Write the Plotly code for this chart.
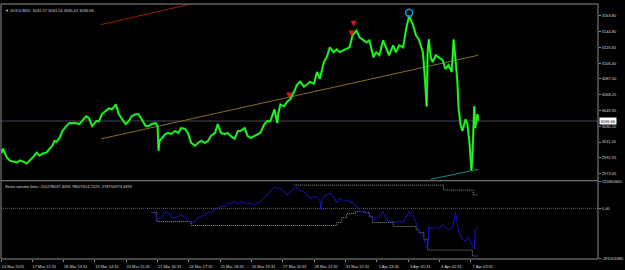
import plotly.graph_objects as go

# ---------------- data ----------------
symbol_title = "\u25BC GOLD,M15  3042.17 3043.24 3035.61 3036.66"
indicator_title = "Sirius volume lines -110278037.4094 78627614.7223 -278750973.4959"
current_price = 3036.66

x_tick_bars = [0, 100, 200, 300, 400, 500, 600, 700, 800, 900, 1000, 1100, 1200, 1300, 1400, 1500]
x_tick_labels = ["14 Mar 2025", "17 Mar 12:31", "18 Mar 13:31", "19 Mar 14:31", "20 Mar 15:31",
                 "21 Mar 16:31", "24 Mar 17:31", "25 Mar 18:31", "26 Mar 19:31", "27 Mar 20:31",
                 "28 Mar 21:31", "31 Mar 22:31", "1 Apr 23:31", "3 Apr 01:31", "4 Apr 02:31", "7 Apr 03:31"]

price_ticks = [3163.80, 3144.80, 3125.65, 3106.40, 3087.50, 3068.25, 3049.35, 3030.10, 3011.20, 2991.95, 2973.05]
price_range = [2965.1, 3177.7]

ind_max = 155.85   # millions
ind_min = -291.00
ind_tick_labels = ["155850600", "0.00", "-291003380"]

price_bars = [3, 6, 19, 28, 38, 51, 60, 70, 82, 92,
              101, 114, 123, 133, 145, 155, 164, 171, 177, 187,
              196, 209, 218, 228, 240, 250, 259, 272, 281, 291,
              304, 313, 322, 335, 345, 354, 367, 376, 386, 398,
              408, 417, 430, 439, 449, 462, 471, 481, 493, 500,
              503, 506, 512, 525, 534, 544, 556, 566, 575, 588,
              598, 607, 620, 629, 639, 651, 661, 670, 683, 692,
              702, 715, 724, 733, 746, 756, 765, 778, 787, 797,
              809, 819, 828, 841, 850, 860, 873, 882, 885, 892,
              904, 914, 923, 936, 945, 955, 967, 977, 986, 999,
              1009, 1018, 1031, 1040, 1050, 1062, 1072, 1081, 1094, 1103,
              1113, 1122, 1135, 1145, 1157, 1167, 1176, 1189, 1198, 1208,
              1220, 1230, 1239, 1252, 1261, 1271, 1284, 1293, 1303, 1315,
              1325, 1334, 1347, 1353, 1359, 1362, 1366, 1372, 1378, 1388,
              1397, 1410, 1419, 1429, 1439, 1445, 1451, 1457, 1461, 1467,
              1473, 1483, 1489, 1496, 1502, 1505, 1508, 1511, 1514, 1521,
              1524]
price_close = [2998.4, 3003.1, 2992.4, 2988.9, 2987.7, 2986.5, 2988.9, 2987.7, 2985.3, 2988.9,
               2992.4, 2998.4, 2994.8, 2997.2, 2998.4, 3003.1, 3006.7, 3012.6, 3011.4, 3016.2,
               3024.5, 3030.4, 3034.0, 3034.0, 3034.0, 3032.8, 3036.4, 3042.3, 3039.9, 3030.4,
               3036.4, 3036.4, 3044.7, 3048.2, 3051.8, 3050.6, 3056.6, 3044.7, 3038.7, 3032.8,
               3036.4, 3042.3, 3044.7, 3044.7, 3038.7, 3030.4, 3030.4, 3032.8, 3034.0, 3030.4,
               3000.7, 3012.6, 3015.0, 3020.9, 3022.1, 3020.9, 3024.5, 3022.1, 3028.0, 3026.9,
               3020.9, 3010.2, 3006.7, 3010.2, 3012.6, 3010.2, 3012.6, 3018.5, 3022.1, 3032.8,
               3022.1, 3020.9, 3022.1, 3018.5, 3015.0, 3024.5, 3024.5, 3028.0, 3018.5, 3016.2,
               3018.5, 3020.9, 3022.1, 3032.8, 3036.4, 3036.4, 3050.6, 3034.0, 3044.7, 3056.6,
               3054.2, 3060.1, 3062.5, 3072.0, 3080.3, 3083.9, 3077.9, 3080.3, 3083.9, 3081.5,
               3095.7, 3087.4, 3107.6, 3113.6, 3125.4, 3119.5, 3123.1, 3119.5, 3121.9, 3123.1,
               3125.4, 3139.7, 3145.6, 3137.3, 3133.8, 3131.4, 3133.8, 3113.6, 3119.5, 3115.9,
               3133.8, 3123.1, 3115.9, 3127.8, 3119.5, 3127.8, 3125.4, 3146.8, 3163.4, 3152.8,
               3139.7, 3134.9, 3119.5, 3089.8, 3054.2, 3119.5, 3134.9, 3113.6, 3107.6, 3115.9,
               3113.6, 3110.0, 3099.3, 3104.1, 3095.7, 3134.9, 3111.2, 3083.9, 3051.8, 3032.8,
               3024.5, 3038.7, 3032.8, 3009.0, 2977.0, 2992.4, 3024.5, 3054.2, 3028.0, 3044.7,
               3036.7]

sell_arrow_bars = [920, 1119, 1126]
sell_arrow_prices = [3063.7, 3138.5, 3150.4]
circle_bars = [1303]
circle_prices = [3167.0]

red_line_bars = [319, 640]
red_line_prices = [3152.8, 3180.6]
gold_line_bars = [319, 1524]
gold_line_prices = [3015.0, 3115.9]
teal_line_bars = [1372, 1524]
teal_line_prices = [2966.3, 2978.2]

vol_bars = [481, 493, 497, 503, 512, 525, 534, 544, 556, 566,
            575, 588, 598, 607, 620, 629, 639, 651, 661, 670,
            683, 692, 702, 715, 724, 733, 746, 756, 765, 778,
            787, 797, 809, 819, 828, 841, 850, 860, 873, 882,
            892, 904, 914, 923, 936, 945, 955, 967, 977, 986,
            999, 1009, 1018, 1021, 1024, 1031, 1040, 1050, 1062, 1072,
            1081, 1094, 1103, 1113, 1126, 1135, 1145, 1157, 1167, 1176,
            1189, 1198, 1208, 1220, 1230, 1239, 1252, 1261, 1271, 1284,
            1293, 1303, 1315, 1325, 1334, 1347, 1356, 1362, 1366, 1378,
            1388, 1397, 1410, 1419, 1429, 1442, 1451, 1461, 1473, 1483,
            1492, 1505, 1511, 1514, 1524]
vol_values = [-24.9, -24.9, -64.5, -64.5, -53.2, -24.9, -24.9, -53.2, -53.2, -47.5,
              -36.2, -53.2, -75.8, -81.4, -75.8, -53.2, -47.5, -36.2, -24.9, -24.9,
              -7.9, 3.4, 9.0, 9.0, 31.7, 26.0, 37.3, 26.0, 37.3, 31.7,
              26.0, 31.7, 20.4, 31.7, 37.3, 60.0, 76.9, 93.9, 122.2, 116.5,
              116.5, 93.9, 76.9, 93.9, 116.5, 122.2, 105.2, 93.9, 76.9, 60.0,
              65.6, 65.6, 48.6, -7.9, 48.6, 65.6, 76.9, 88.2, 65.6, 31.7,
              60.0, 37.3, 48.6, 37.3, 31.7, 9.0, -19.2, -19.2, -24.9, -36.2,
              -64.5, -53.2, -47.5, -19.2, -64.5, -75.8, -75.8, -81.4, -75.8, -81.4,
              -47.5, -19.2, -47.5, -81.4, -132.4, -160.6, -205.9, -234.2, -104.1, -121.0,
              -104.1, -121.0, -92.8, -109.7, -121.0, -109.7, -24.9, -132.4, -177.6, -188.9,
              -166.3, -217.2, -234.2, -121.0, -109.7]

lower_bars = [481, 497, 607, 1072, 1088, 1104, 1132, 1157, 1176, 1186, 1252, 1325, 1334, 1350, 1362, 1492, 1505, 1524]
lower_values = [-24.9, -75.8, -98.4, -81.4, -53.2, -30.5, -19.2, -24.9, -47.5, -81.4, -104.1, -121.0, -138.0, -177.6, -239.8, -239.8, -273.8, -273.8]
upper_bars = [936, 1413, 1508, 1524]
upper_values = [133.5, 105.2, 76.9, 76.9]

x_range = [0, 1906]

# ---------------- figure ----------------
FONT = "Liberation Sans"
AX = "#8c8c8c"
TXT = "#d8d8d8"
FINE_DOT = "1px,1px"

fig = go.Figure()

fig.add_trace(go.Scatter(x=x_range, y=[current_price, current_price], mode="lines",
                         line=dict(color="#2c313a", width=1.5), yaxis="y", hoverinfo="skip"))
fig.add_trace(go.Scatter(x=red_line_bars, y=red_line_prices, mode="lines",
                         line=dict(color="#9a1c10", width=1), yaxis="y"))
fig.add_trace(go.Scatter(x=gold_line_bars, y=gold_line_prices, mode="lines",
                         line=dict(color="#8a6c1c", width=1), yaxis="y"))
fig.add_trace(go.Scatter(x=teal_line_bars, y=teal_line_prices, mode="lines",
                         line=dict(color="#1a8a8a", width=1), yaxis="y"))
fig.add_trace(go.Scatter(x=price_bars, y=price_close, mode="lines",
                         line=dict(color="#0cd40c", width=2.2), yaxis="y"))
fig.add_trace(go.Scatter(x=price_bars, y=price_close, mode="lines",
                         line=dict(color="#3cff3c", width=0.8), yaxis="y"))
fig.add_trace(go.Scatter(x=sell_arrow_bars, y=sell_arrow_prices, mode="markers",
                         marker=dict(symbol="arrow-down", size=6, color="#e01010"), yaxis="y"))
fig.add_trace(go.Scatter(x=circle_bars, y=circle_prices, mode="markers",
                         marker=dict(symbol="circle-open", size=7, color="#1e90c8",
                                     line=dict(width=1.5, color="#1e90c8")), yaxis="y"))

# indicator panel
fig.add_trace(go.Scatter(x=x_range, y=[0, 0], mode="lines",
                         line=dict(color="#7a6a10", width=1, dash=FINE_DOT), yaxis="y2"))
fig.add_trace(go.Scatter(x=lower_bars, y=lower_values, mode="lines", line_shape="hv",
                         line=dict(color="#8c8c8c", width=1, dash=FINE_DOT), yaxis="y2"))
fig.add_trace(go.Scatter(x=upper_bars, y=upper_values, mode="lines", line_shape="hv",
                         line=dict(color="#8c8c8c", width=1, dash=FINE_DOT), yaxis="y2"))
fig.add_trace(go.Scatter(x=vol_bars, y=vol_values, mode="lines",
                         line=dict(color="#1414c8", width=1), yaxis="y2"))

main_bottom = 0.3089
ind_top = 0.305

fig.update_layout(
    width=625, height=270,
    margin=dict(l=1, r=21, t=1, b=10),
    paper_bgcolor="black", plot_bgcolor="black",
    showlegend=False,
    font=dict(family=FONT, size=4, color=TXT),
    xaxis=dict(domain=[0, 1], range=x_range, anchor="y2",
               tickvals=x_tick_bars, ticktext=x_tick_labels,
               ticks="outside", ticklen=2, tickwidth=1, tickcolor=AX,
               tickfont=dict(family=FONT, size=4, color=TXT),
               ticklabelshift=12, ticklabelstandoff=1,
               showgrid=False, zeroline=False, showline=False),
    yaxis=dict(domain=[main_bottom, 1], range=price_range, anchor="x", side="right",
               tickvals=price_ticks, ticktext=[f"{v:.2f}" for v in price_ticks],
               ticks="outside", ticklen=2, tickwidth=1, tickcolor=AX,
               tickfont=dict(family=FONT, size=4, color=TXT),
               showgrid=False, zeroline=False, showline=False),
    yaxis2=dict(domain=[0, ind_top], range=[ind_min, ind_max], anchor="x", side="right",
                tickvals=[ind_max, 0, ind_min], ticktext=ind_tick_labels,
                ticks="outside", ticklen=2, tickwidth=1, tickcolor=AX,
                tickfont=dict(family=FONT, size=4, color=TXT),
                showgrid=False, zeroline=False, showline=False),
    shapes=[
        dict(type="rect", xref="paper", yref="paper", x0=0, x1=1, y0=0, y1=1,
             line=dict(color=AX, width=1)),
        dict(type="line", xref="paper", yref="paper", x0=0, x1=1,
             y0=(main_bottom + ind_top) / 2, y1=(main_bottom + ind_top) / 2,
             line=dict(color=AX, width=1)),
    ],
    annotations=[
        dict(text=symbol_title, xref="paper", yref="paper", x=0, y=1, xanchor="left", yanchor="top",
             xshift=2, yshift=-2, showarrow=False, font=dict(family=FONT, size=4, color=TXT)),
        dict(text=indicator_title, xref="paper", yref="paper", x=0, y=ind_top, xanchor="left", yanchor="top",
             xshift=2, yshift=-1, showarrow=False, font=dict(family=FONT, size=4, color=TXT)),
        dict(text=f"{current_price:.2f}", xref="paper", yref="y", x=1, y=current_price,
             xanchor="left", yanchor="middle", xshift=1, showarrow=False,
             bgcolor="white", borderpad=0.5, font=dict(family=FONT, size=4, color="black")),
    ],
)

fig.write_html("out.html")
